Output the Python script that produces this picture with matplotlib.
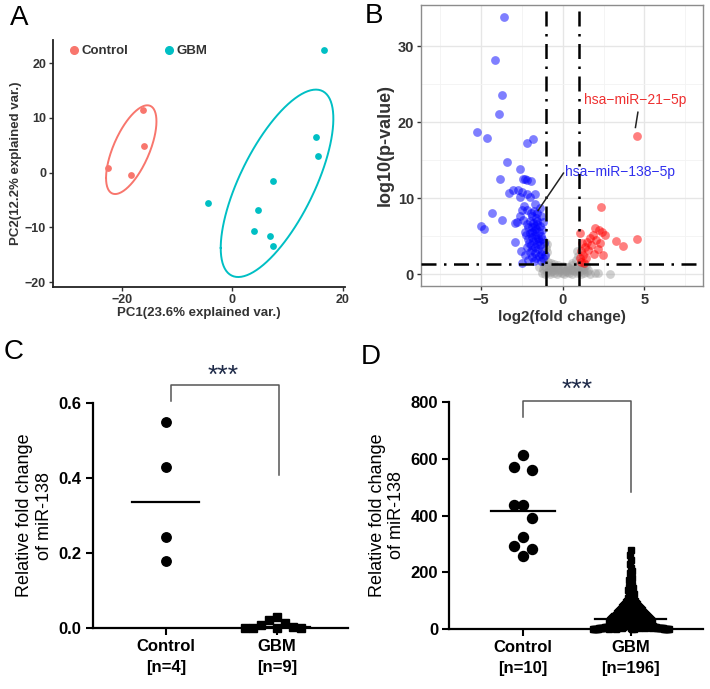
import numpy as np
import matplotlib
matplotlib.use('Agg')
import matplotlib.pyplot as plt
from matplotlib.lines import Line2D

plt.rcParams['font.family'] = ['Liberation Sans', 'DejaVu Sans']

# ---------------- data ----------------
# A : PCA scores
ctrl_pc1 = [-22.5, -18.3, -16.2, -16.0]
ctrl_pc2 = [0.8, -0.4, 11.5, 4.8]
gbm_pc1 = [16.6, 15.1, 15.5, 7.4, -4.4, 4.7, 3.9, 6.9, 7.3]
gbm_pc2 = [22.4, 6.5, 3.1, -1.6, -5.5, -6.9, -10.7, -11.6, -13.4]

# B : volcano (log2 fold change, -log10 p)
down_lfc = [-3.56, -4.15, -3.73, -3.91, -5.21, -4.64, -2.18, -1.80, -3.42, -2.61, -3.83, -2.40,
            -2.20, -1.94, -2.30, -3.02, -2.72, -2.51, -2.20, -1.69, -2.61, -2.00, -3.28, -4.34,
            -3.73, -5.00, -4.80, -2.90, -2.89, -2.46,
            -2.61, -2.80, -2.40, -2.20, -2.00, -1.80, -1.59, -1.39, -1.90, -2.30, -2.00, -1.69,
            -1.49, -2.10, -1.80, -1.59, -1.39, -2.20, -1.90, -1.69, -1.43, -1.19, -2.30, -2.10,
            -1.55, -1.75, -1.95, -2.15, -1.35, -1.65, -1.25, -1.30, -1.45, -1.60, -1.75, -1.85,
            -2.05, -1.70, -1.50, -1.25, -1.35, -1.60, -1.85, -2.00, -1.15, -1.20, -1.40, -1.70,
            -2.35, -2.50, -2.25, -1.95, -1.10, -1.30, -1.75, -2.55, -1.55, -1.85, -2.10, -1.45,
            -1.28, -1.62, -1.88, -1.72]
down_p = [33.8, 28.2, 23.6, 21.1, 18.7, 17.9, 17.3, 17.8, 14.8, 13.9, 12.5, 12.5,
          12.4, 12.3, 12.5, 11.1, 11.1, 10.8, 10.5, 10.6, 10.1, 10.1, 10.7, 8.1,
          7.15, 6.35, 5.9, 6.7, 4.2, 1.5,
          7.6, 6.9, 7.2, 6.6, 7.0, 6.8, 6.6, 6.4, 6.2, 5.6, 5.4, 5.2,
          4.8, 4.6, 4.4, 4.0, 3.8, 3.6, 3.2, 2.8, 2.4, 2.2, 2.5, 1.9,
          8.1, 8.3, 8.0, 8.4, 7.6, 7.4, 5.8, 5.0, 5.6, 5.9, 5.7, 4.9,
          4.1, 3.6, 3.3, 3.0, 2.7, 2.1, 2.3, 2.9, 4.1, 6.9, 8.7, 9.2,
          9.0, 8.5, 5.1, 3.8, 2.6, 1.8, 1.7, 3.0, 7.0, 7.7, 6.2, 4.4,
          4.6, 4.7, 5.5, 6.3]
up_lfc = [4.52, 2.34, 4.56, 3.26, 3.71, 1.06, 1.97, 2.24, 2.38, 1.67, 1.47, 1.20, 2.28, 1.57,
          1.26, 2.48, 1.06, 1.36, 1.87, 2.05, 1.15, 1.40, 1.75, 2.15, 1.10, 1.30, 1.90, 2.60]
up_p = [18.2, 8.9, 4.7, 4.4, 3.7, 5.4, 6.05, 5.83, 5.5, 4.73, 4.3, 4.07, 4.07, 3.2,
        2.54, 2.54, 2.1, 3.6, 5.1, 4.5, 3.0, 2.2, 3.8, 3.3, 1.6, 1.5, 2.7, 5.2]
ns_lfc = [-1.25, -1.10, -0.95, -0.80, -0.65, -0.50, -0.35, -0.20, -0.05, 0.10, 0.25, 0.40,
          0.55, 0.70, 0.85, 1.00, 1.15, 1.30, 1.50, 1.70, 1.95, 2.18, 2.89,
          -1.20, -1.00, -0.85, -0.70, -0.55, -0.40, -0.25, -0.10, 0.05, 0.20, 0.35, 0.50,
          0.65, 0.80, 0.95, 1.10, 1.30, 1.55,
          -1.15, -0.90, -0.60, -0.30, 0.00, 0.30, 0.60, 0.90, 1.20, 1.45,
          -1.15, -1.05, -0.95, -1.00, -0.90, -0.70, -0.50, 0.60, 0.80, 0.95, 0.90, 1.05,
          -1.10, -0.95, -1.45, -0.75, -0.30, 0.15, 0.45, 1.25]
ns_p = [0.2, 0.1, 0.3, 0.1, 0.4, 0.2, 0.1, 0.3, 0.2, 0.1, 0.3, 0.2,
        0.1, 0.4, 0.2, 0.3, 0.1, 0.2, 0.3, 0.1, 0.2, 0.15, 0.0,
        0.7, 0.9, 0.6, 0.8, 0.5, 0.9, 0.7, 0.6, 0.8, 0.5, 0.9, 0.7,
        0.6, 0.8, 0.5, 0.9, 0.7, 0.6,
        1.1, 1.2, 1.0, 1.2, 1.1, 1.0, 1.2, 1.1, 1.0, 1.2,
        1.8, 2.3, 2.9, 3.5, 1.6, 1.5, 1.4, 1.5, 1.9, 2.4, 3.0, 1.4,
        4.2, 4.0, 0.9, 0.3, 0.5, 0.4, 0.6, 0.5]

# C : qPCR cohort 1
c_ctrl = [0.549, 0.430, 0.242, 0.179]
c_gbm = [0.029, 0.022, 0.013, 0.009, 0.004, 0.002, 0.001, 0.0, 0.0]
c_labels = ['Control\n[n=4]', 'GBM\n[n=9]']

# D : qPCR cohort 2
d_ctrl = [611, 572, 559, 438, 438, 392, 324, 293, 282, 256.5]
d_gbm = [0.2, 0.4, 0.5, 0.7, 0.9, 1.0, 1.2, 1.3, 1.5, 1.7, 1.9, 2.0, 2.2, 2.4, 2.5,
         2.7, 2.9, 3.0, 3.2, 3.3, 3.5, 3.7, 3.8, 4.0, 4.1, 4.3, 4.5, 4.6, 4.8, 4.9,
         5.1, 5.4, 5.6, 5.9, 6.2, 6.4, 6.7, 7.0, 7.2, 7.5, 7.8, 8.0, 8.3, 8.6, 8.9, 9.2, 9.5, 9.8,
         10.1, 10.6, 11.0, 11.5, 11.9, 12.4, 12.8, 13.3, 13.7, 14.2, 14.6, 15.1, 15.5, 16.0,
         16.5, 16.9, 17.4, 17.8, 18.3, 18.8, 19.2, 19.7,
         20.2, 20.9, 21.6, 22.2, 22.9, 23.6, 24.2, 24.9, 25.6, 26.3, 26.9, 27.6, 28.3, 28.9,
         29.6, 30.3, 30.9, 31.6, 32.2, 32.9,
         33.5, 34.0, 34.6, 35.1, 35.7, 36.2, 36.8, 37.3, 37.9, 38.4, 39.0, 39.5, 40.1, 40.6,
         41.2, 41.7, 42.3, 42.8, 43.4, 43.9, 44.5, 45.0, 45.6, 46.1, 46.7, 47.2, 47.8, 48.3,
         48.9, 49.4, 49.8, 50.0,
         50.8, 51.6, 52.5, 53.3, 54.2, 55.0, 55.9, 56.7, 57.6, 58.4, 59.3, 60.1, 61.0, 61.8,
         62.7, 63.5, 64.4, 65.2, 66.1, 66.9, 67.8, 68.6, 69.5, 70.3, 71.2, 72.0, 72.9, 73.7,
         74.3, 74.9,
         76, 77.5, 79, 80.4, 81.9, 83.3, 84.8, 86.2, 87.7, 89.1, 90.6, 92, 93.5, 94.9, 96.4,
         97.8, 99, 99.8,
         102, 106, 110, 114, 117, 121, 125, 129, 133, 137, 141, 145, 149,
         154, 160, 167, 174, 181, 189, 197, 206, 216, 228, 244, 262, 278]
d_labels = ['Control\n[n=10]', 'GBM\n[n=196]']

CTRL_COL = '#F8766D'
GBM_COL = '#00BFC4'


def ellipse_pts(x, y, prob=0.68):
    # same construction as ggbiplot's group ellipses
    x = np.asarray(x); y = np.asarray(y)
    sigma = np.cov(np.vstack([x, y]))
    mu = np.array([x.mean(), y.mean()])
    ed = np.sqrt(-2 * np.log(1 - prob))
    t = np.linspace(-np.pi, np.pi, 200)
    circ = np.column_stack([np.cos(t), np.sin(t)])
    L = np.linalg.cholesky(sigma)
    ell = circ @ L.T * ed + mu
    return ell[:, 0], ell[:, 1]


def swarm(ax, vals, slot_px, thr_px):
    # greedy swarm: highest value first, slots 0, -1, +1, -2, ...
    vals = np.asarray(vals, float)
    t = ax.transData
    ppy = t.transform((0, 1))[1] - t.transform((0, 0))[1]
    ppx = t.transform((1, 0))[0] - t.transform((0, 0))[0]
    cand = [0]
    for k in range(1, 300):
        cand += [-k, k]
    placed = []
    offs = np.zeros(len(vals))
    for i in np.argsort(vals)[::-1]:
        y = vals[i] * ppy
        for s in cand:
            if all(not (ps == s and abs(py - y) < thr_px) for ps, py in placed):
                break
        placed.append((s, y))
        offs[i] = s * slot_px / ppx
    return offs


fig = plt.figure(figsize=(7.1, 6.89), dpi=100)
W, H = 710, 689


def add_ax(l, r, t, b):
    return fig.add_axes([l / W, 1 - b / H, (r - l) / W, (b - t) / H])


# ---------------- A ----------------
ax = add_ax(53, 345, 40, 287)
for xs, ys, col in [(ctrl_pc1, ctrl_pc2, CTRL_COL), (gbm_pc1, gbm_pc2, GBM_COL)]:
    ex, ey = ellipse_pts(xs, ys)
    ax.plot(ex, ey, color=col, lw=1.4)
    ax.scatter(xs, ys, s=24, color=col, zorder=3, linewidths=0)
ax.set_xlim(-32.4, 20.4)
ax.set_ylim(-20.9, 24.2)
ax.set_xticks([-20, 0, 20])
ax.set_yticks([-20, -10, 0, 10, 20])
for s in ['top', 'right']:
    ax.spines[s].set_visible(False)
for s in ['left', 'bottom']:
    ax.spines[s].set_linewidth(1.3)
    ax.spines[s].set_color('#222222')
ax.tick_params(length=3, width=1, color='#333333', labelsize=9, pad=2, labelcolor='#333333')
for lb in ax.get_xticklabels() + ax.get_yticklabels():
    lb.set_fontweight('bold')
ax.set_xlabel('PC1(23.6% explained var.)', fontsize=9.5, fontweight='bold', color='#333333', labelpad=1)
ax.set_ylabel('PC2(12.2% explained var.)', fontsize=9.5, fontweight='bold', color='#333333', labelpad=2)
hs = [Line2D([], [], marker='o', ls='', color=CTRL_COL, markersize=5.5),
      Line2D([], [], marker='o', ls='', color=GBM_COL, markersize=5.5)]
leg = ax.legend(hs, ['Control', 'GBM'], ncol=2, loc='center left', bbox_to_anchor=(0.05, 0.955),
                frameon=False, handletextpad=0.05, columnspacing=2.6, handlelength=1.0,
                borderaxespad=0, borderpad=0, prop={'weight': 'bold', 'size': 9.5})
for tx in leg.get_texts():
    tx.set_color('#333333')

# ---------------- B ----------------
ax = add_ax(421, 703, 5, 286)
ax.set_xlim(-8.66, 8.58)
ax.set_ylim(-1.54, 35.4)
ax.set_xticks([-5, 0, 5])
ax.set_yticks([0, 10, 20, 30])
ax.set_xticks([-7.5, -2.5, 2.5, 7.5], minor=True)
ax.set_yticks([5, 15, 25], minor=True)
ax.grid(which='major', color='#E6E6E6', lw=1.0)
ax.grid(which='minor', color='#F3F3F3', lw=0.6)
ax.set_axisbelow(True)
ax.scatter(ns_lfc, ns_p, s=40, color='#9A9A9A', alpha=0.45, linewidths=0, zorder=2)
ax.scatter(down_lfc, down_p, s=40, color='blue', alpha=0.5, linewidths=0, zorder=2)
ax.scatter(up_lfc, up_p, s=40, color='red', alpha=0.5, linewidths=0, zorder=2)
dd = (0, (6, 3, 1, 3))
for v in [-1, 1]:
    ax.axvline(v, color='black', lw=1.8, ls=dd, zorder=4)
ax.axhline(-np.log10(0.05), color='black', lw=1.8, ls=dd, zorder=4)
ax.plot([4.6, 4.45], [21.3, 19.3], color='#222222', lw=1.1, zorder=5)
ax.plot([0.05, -1.5], [13.3, 8.4], color='#222222', lw=1.1, zorder=5)
ax.text(1.3, 22.9, 'hsa\u2212miR\u221221\u22125p', color='#EE3030', fontsize=10, va='center', ha='left')
ax.text(0.14, 13.5, 'hsa\u2212miR\u2212138\u22125p', color='#3030EE', fontsize=10, va='center', ha='left')
for s in ax.spines.values():
    s.set_color('#8C8C8C')
    s.set_linewidth(1.0)
ax.tick_params(which='major', length=3, width=1, color='#333333', labelsize=10.5, pad=2,
               labelcolor='#333333')
ax.tick_params(which='minor', length=0)
for lb in ax.get_xticklabels() + ax.get_yticklabels():
    lb.set_fontweight('bold')
ax.set_xlabel('log2(fold change)', fontsize=11, fontweight='bold', color='#333333', labelpad=2)
ax.set_ylabel('log10(p-value)', fontsize=13, fontweight='bold', color='#333333', labelpad=3)


# ---------------- C & D ----------------
def dot_panel(ax, ctrl, gbm, labels, ymax, yticks, fmt, c_ms, g_ms, g_slot, g_thr,
              glw, bracket, star_xy):
    ax.set_xlim(*xl)
    ax.set_ylim(0, ymax)
    oc = swarm(ax, ctrl, 9.3, 15)
    og = swarm(ax, gbm, g_slot, g_thr)
    ax.plot(0 + oc, ctrl, 'o', color='black', ms=c_ms, ls='', clip_on=False, zorder=3)
    ax.plot(1 + og, gbm, 's', color='black', ms=g_ms, ls='', clip_on=False, zorder=3)
    ax.plot([-0.3, 0.3], [np.median(ctrl)] * 2, color='black', lw=1.6, zorder=4)
    ax.plot([1 - glw, 1 + glw], [np.median(gbm)] * 2, color='black', lw=1.6, zorder=4)
    x0, y0, x1, y1, yt = bracket
    ax.plot([x0, x0, x1, x1], [y0, yt, yt, y1], color='#555555', lw=1.1, clip_on=False)
    ax.text(star_xy[0], star_xy[1], '***', ha='center', va='center', fontsize=19,
            color='#1E2A48', clip_on=False)
    ax.set_xticks([0, 1])
    ax.set_xticklabels(labels, fontsize=12, fontweight='bold', linespacing=1.5)
    ax.set_yticks(yticks)
    ax.set_yticklabels([fmt.format(v) for v in yticks], fontsize=12, fontweight='bold')
    for s in ['top', 'right']:
        ax.spines[s].set_visible(False)
    for s in ['left', 'bottom']:
        ax.spines[s].set_linewidth(1.6)
    ax.tick_params(length=5, width=1.5, pad=3)
    ax.set_ylabel('Relative fold change\nof miR-138', fontsize=13, labelpad=4)


xl = (-0.658, 1.64)
ax = add_ax(92.7, 348, 402.7, 628.3)
dot_panel(ax, c_ctrl, c_gbm, c_labels, 0.6, [0.0, 0.2, 0.4, 0.6], '{:.1f}',
          6.8, 6.0, 8.0, 10, 0.3, (0.05, 0.605, 1.02, 0.408, 0.647), (0.52, 0.672))

xl = (-0.684, 1.674)
ax = add_ax(449.3, 703.3, 401.7, 629.3)
dot_panel(ax, d_ctrl, d_gbm, d_labels, 800, [0, 200, 400, 600, 800], '{:.0f}',
          7.2, 4.5, 1.0, 7, 0.33, (0.0, 745, 1.0, 484, 802), (0.5, 840))

# panel letters
for lt, x, y in [('A', 10, 18), ('B', 365, 16), ('C', 4, 352), ('D', 361, 357)]:
    fig.text(x / W, 1 - y / H, lt, fontsize=20, va='center', ha='left')

fig.savefig('out.png', dpi=100)
